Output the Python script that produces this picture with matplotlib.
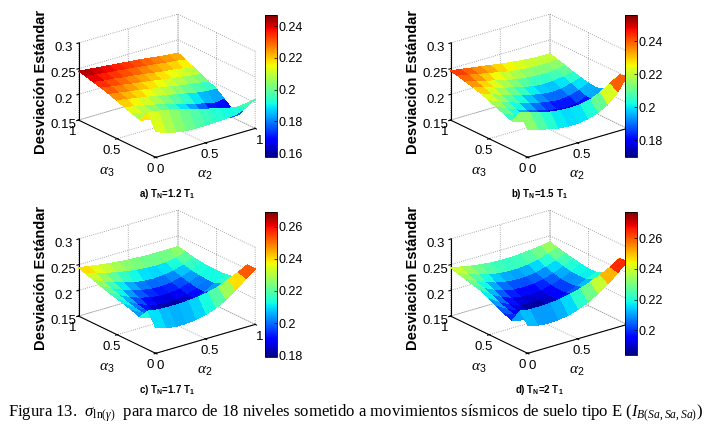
import numpy as np
import matplotlib
matplotlib.use('Agg')
import matplotlib.pyplot as plt
from matplotlib import cm, colors
from mpl_toolkits.mplot3d import proj3d

plt.rcParams.update({
    'font.family': 'Liberation Sans',
    'grid.linestyle': ':',
    'grid.color': '#8c8c8c',
    'grid.linewidth': 0.6,
    'mathtext.fontset': 'custom',
    'mathtext.rm': 'Liberation Serif',
    'mathtext.it': 'Liberation Serif:italic',
    'mathtext.bf': 'Liberation Sans:bold',
    'mathtext.sf': 'Liberation Sans',
})

# grid of the weights (columns: alpha2, rows: alpha3)
alpha2 = [0.0, 0.1, 0.2, 0.3, 0.4, 0.5, 0.6, 0.7, 0.8, 0.9, 1.0]
alpha3 = [0.0, 0.1, 0.2, 0.3, 0.4, 0.5, 0.6, 0.7, 0.8, 0.9, 1.0]

# a) TN = 1.2 T1
sigma_a = [
    [0.200, 0.193, 0.188, 0.185, 0.184, 0.184, 0.185, 0.186, 0.188, 0.195, 0.207],
    [0.230, 0.227, 0.223, 0.219, 0.214, 0.208, 0.203, 0.198, 0.193, 0.190, 0.192],
    [0.208, 0.203, 0.198, 0.193, 0.188, 0.183, 0.177, 0.171, 0.166, 0.162, 0.163],
    [0.213, 0.208, 0.203, 0.198, 0.193, 0.188, 0.182, 0.176, 0.169, 0.159, 0.166],
    [0.218, 0.214, 0.210, 0.206, 0.201, 0.196, 0.191, 0.185, 0.180, 0.175, 0.178],
    [0.224, 0.221, 0.217, 0.214, 0.210, 0.206, 0.202, 0.198, 0.194, 0.191, 0.190],
    [0.229, 0.226, 0.223, 0.220, 0.216, 0.213, 0.210, 0.206, 0.203, 0.200, 0.197],
    [0.234, 0.231, 0.228, 0.225, 0.222, 0.219, 0.216, 0.213, 0.210, 0.207, 0.204],
    [0.238, 0.235, 0.233, 0.230, 0.228, 0.225, 0.222, 0.219, 0.217, 0.214, 0.211],
    [0.242, 0.240, 0.237, 0.235, 0.233, 0.231, 0.228, 0.226, 0.223, 0.221, 0.218],
    [0.245, 0.243, 0.241, 0.239, 0.237, 0.235, 0.233, 0.231, 0.228, 0.226, 0.224],
]

# b) TN = 1.5 T1
sigma_b = [
    [0.205, 0.199, 0.194, 0.190, 0.188, 0.188, 0.191, 0.197, 0.207, 0.225, 0.252],
    [0.230, 0.224, 0.218, 0.214, 0.211, 0.210, 0.211, 0.215, 0.223, 0.235, 0.247],
    [0.206, 0.199, 0.192, 0.186, 0.181, 0.177, 0.175, 0.176, 0.183, 0.198, 0.222],
    [0.212, 0.204, 0.196, 0.189, 0.183, 0.178, 0.174, 0.172, 0.176, 0.187, 0.205],
    [0.218, 0.210, 0.202, 0.195, 0.189, 0.184, 0.180, 0.178, 0.180, 0.188, 0.200],
    [0.224, 0.216, 0.209, 0.202, 0.196, 0.191, 0.187, 0.185, 0.187, 0.193, 0.202],
    [0.230, 0.223, 0.216, 0.210, 0.204, 0.199, 0.195, 0.193, 0.194, 0.199, 0.205],
    [0.235, 0.229, 0.223, 0.217, 0.212, 0.207, 0.203, 0.201, 0.202, 0.205, 0.209],
    [0.239, 0.234, 0.229, 0.224, 0.219, 0.215, 0.212, 0.210, 0.209, 0.211, 0.214],
    [0.243, 0.239, 0.235, 0.231, 0.227, 0.223, 0.220, 0.218, 0.217, 0.217, 0.218],
    [0.246, 0.243, 0.240, 0.237, 0.234, 0.231, 0.228, 0.226, 0.224, 0.223, 0.223],
]

# c) TN = 1.7 T1
sigma_c = [
    [0.200, 0.194, 0.191, 0.191, 0.193, 0.197, 0.204, 0.214, 0.227, 0.243, 0.258],
    [0.225, 0.222, 0.221, 0.221, 0.222, 0.224, 0.227, 0.232, 0.239, 0.249, 0.259],
    [0.206, 0.199, 0.194, 0.191, 0.190, 0.192, 0.196, 0.203, 0.212, 0.222, 0.232],
    [0.211, 0.201, 0.193, 0.188, 0.186, 0.187, 0.190, 0.196, 0.204, 0.213, 0.222],
    [0.216, 0.204, 0.194, 0.186, 0.181, 0.180, 0.182, 0.187, 0.195, 0.206, 0.219],
    [0.220, 0.208, 0.198, 0.190, 0.185, 0.183, 0.184, 0.188, 0.195, 0.206, 0.219],
    [0.224, 0.213, 0.204, 0.197, 0.192, 0.189, 0.189, 0.192, 0.198, 0.207, 0.219],
    [0.229, 0.219, 0.211, 0.204, 0.199, 0.196, 0.195, 0.197, 0.202, 0.209, 0.220],
    [0.234, 0.225, 0.218, 0.212, 0.207, 0.204, 0.203, 0.204, 0.207, 0.213, 0.222],
    [0.239, 0.234, 0.229, 0.225, 0.221, 0.218, 0.216, 0.215, 0.216, 0.219, 0.226],
    [0.244, 0.241, 0.238, 0.235, 0.233, 0.231, 0.230, 0.229, 0.229, 0.229, 0.229],
]

# d) TN = 2 T1
sigma_d = [
    [0.205, 0.199, 0.197, 0.198, 0.201, 0.207, 0.215, 0.226, 0.239, 0.255, 0.273],
    [0.225, 0.222, 0.222, 0.223, 0.225, 0.229, 0.234, 0.241, 0.249, 0.259, 0.271],
    [0.199, 0.195, 0.193, 0.193, 0.195, 0.199, 0.205, 0.213, 0.222, 0.231, 0.240],
    [0.205, 0.197, 0.191, 0.188, 0.188, 0.191, 0.196, 0.203, 0.211, 0.220, 0.228],
    [0.212, 0.201, 0.192, 0.187, 0.185, 0.187, 0.191, 0.198, 0.206, 0.214, 0.222],
    [0.220, 0.207, 0.197, 0.190, 0.187, 0.188, 0.191, 0.197, 0.204, 0.213, 0.222],
    [0.228, 0.214, 0.204, 0.197, 0.193, 0.192, 0.194, 0.199, 0.205, 0.214, 0.224],
    [0.232, 0.220, 0.211, 0.204, 0.200, 0.199, 0.200, 0.203, 0.209, 0.217, 0.227],
    [0.236, 0.226, 0.218, 0.212, 0.208, 0.206, 0.206, 0.209, 0.214, 0.221, 0.230],
    [0.240, 0.232, 0.226, 0.221, 0.217, 0.215, 0.215, 0.217, 0.221, 0.227, 0.234],
    [0.244, 0.240, 0.236, 0.233, 0.231, 0.230, 0.230, 0.231, 0.233, 0.235, 0.238],
]

color_ranges = [(0.1575, 0.247), (0.170, 0.256), (0.179, 0.269), (0.184, 0.277)]
cbar_ticks = [
    [0.16, 0.18, 0.20, 0.22, 0.24],
    [0.18, 0.20, 0.22, 0.24],
    [0.18, 0.20, 0.22, 0.24, 0.26],
    [0.20, 0.22, 0.24, 0.26],
]
subtitles = [
    r'a) T$_{\mathbf{N}}$=1.2 T$_{\mathbf{1}}$',
    r'b) T$_{\mathbf{N}}$=1.5 T$_{\mathbf{1}}$',
    r'c) T$_{\mathbf{N}}$=1.7 T$_{\mathbf{1}}$',
    r'd) T$_{\mathbf{N}}$=2 T$_{\mathbf{1}}$',
]
z_ticks = [0.15, 0.2, 0.25, 0.3]
xy_ticks = [0, 0.5, 1]

W, H = 711, 434
fig = plt.figure(figsize=(W / 100, H / 100), dpi=100)
fig.patch.set_facecolor('white')

# panel offsets in pixels (top-left origin) relative to panel a
offsets = [(0, 0), (372, 0), (0, 196), (372, 196)]
cbar_boxes = [(265, 15, 12, 142), (625, 15, 12, 142),
              (265, 212, 12, 145), (625, 212, 12, 143)]

# where the box corners sit in panel a (pixels, top-left origin)
corner_pts = [(0, 1, 0.15), (0, 0, 0.15), (1, 0, 0.15), (0, 1, 0.30), (1, 1, 0.30)]
corner_px = [(78, 120), (155, 157), (255, 128), (78, 43), (180, 15)]


def px_rect(x, y, w, h):
    return [x / W, 1 - (y + h) / H, w / W, h / H]


X, Y = np.meshgrid(alpha2, alpha3)
axes = []
for k, Z in enumerate([sigma_a, sigma_b, sigma_c, sigma_d]):
    ox, oy = offsets[k]
    ax = fig.add_axes(px_rect(20 + ox, 0 + oy, 260, 260), projection='3d')
    ax.set_proj_type('ortho')
    ax.view_init(elev=22, azim=-127.8)
    ax.set_box_aspect((1, 1, 0.66))
    vmin, vmax = color_ranges[k]
    norm = colors.Normalize(vmin=vmin, vmax=vmax)
    ax.plot_surface(X, Y, np.array(Z), cmap='jet', norm=norm, rstride=1, cstride=1,
                    linewidth=0, antialiased=False, shade=False)
    ax.set_xlim(0, 1)
    ax.set_ylim(0, 1)
    ax.set_zlim(0.15, 0.3)
    ax.set_xticks(xy_ticks)
    ax.set_xticklabels(['0', '0.5', '1'])
    ax.set_yticks(xy_ticks)
    ax.set_yticklabels(['0', '0.5', '1'])
    ax.set_zticks(z_ticks)
    ax.set_zticklabels(['0.15', '0.2', '0.25', '0.3'])
    ax.tick_params(labelsize=9.5)
    ax.tick_params(axis='x', pad=-4)
    ax.tick_params(axis='y', pad=-4)
    ax.tick_params(axis='z', pad=-2)
    for axis in (ax.xaxis, ax.yaxis, ax.zaxis):
        axis.set_pane_color((1, 1, 1, 1))
        axis.pane.set_edgecolor('none')
        axis.line.set_linewidth(0.8)
        axis.line.set_color('black')
    ax.patch.set_alpha(0)

    cx, cy, cw, ch = cbar_boxes[k]
    cax = fig.add_axes(px_rect(cx, cy, cw, ch))
    sm = cm.ScalarMappable(norm=norm, cmap='jet')
    cb = fig.colorbar(sm, cax=cax, ticks=cbar_ticks[k])
    cb.ax.set_yticklabels([f'{t:g}' for t in cbar_ticks[k]])
    cb.ax.tick_params(labelsize=9, length=2, width=0.5, direction='in', pad=1)
    cb.outline.set_linewidth(0.6)

    fig.text((41 + ox) / W, 1 - (82 + oy) / H, 'Desviación Estándar', rotation=90,
             ha='center', va='center', fontsize=10.5, fontweight='bold')
    fig.text((107 + ox) / W, 1 - (172 + oy) / H, r'$\alpha_\mathsf{3}$',
             ha='center', va='center', fontsize=11)
    fig.text((205 + ox) / W, 1 - (175 + oy) / H, r'$\alpha_\mathsf{2}$',
             ha='center', va='center', fontsize=11)
    fig.text((167 + ox) / W, 1 - (194 + oy) / H, subtitles[k],
             ha='center', va='center', fontsize=7, fontweight='bold')
    axes.append(ax)

# move/scale every 3D axes so the box corners land where they are in the figure
fig.canvas.draw()
for k, ax in enumerate(axes):
    ox, oy = offsets[k]
    M = ax.get_proj()
    d = []
    for (x, y, z) in corner_pts:
        px, py, _ = proj3d.proj_transform(x, y, z, M)
        d.append(ax.transData.transform((px, py)))
    d = np.array(d)
    bb = ax.get_position().transformed(fig.transFigure)
    c = np.array([(bb.x0 + bb.x1) / 2, (bb.y0 + bb.y1) / 2])
    t = np.array([(x + ox, H - (y + oy)) for x, y in corner_px])
    u = d - c
    A = []
    rhs = []
    for i in range(len(t)):
        A.append([u[i, 0], 1, 0]); rhs.append(t[i, 0])
        A.append([u[i, 1], 0, 1]); rhs.append(t[i, 1])
    s, ncx, ncy = np.linalg.lstsq(np.array(A), np.array(rhs), rcond=None)[0]
    nw, nh = bb.width * s, bb.height * s
    ax.set_position([(ncx - nw / 2) / W, (ncy - nh / 2) / H, nw / W, nh / H])

fig.text(8 / W, 1 - 413 / H,
         r'Figura 13.  $\sigma_{\mathrm{ln}(\gamma)}$  para marco de 18 niveles sometido a '
         r'movimientos sísmicos de suelo tipo E ($I_{B(Sa,Sa,Sa)}$)',
         ha='left', va='center', fontsize=12, family='Liberation Serif')

fig.savefig('out.png', dpi=100, facecolor='white')
